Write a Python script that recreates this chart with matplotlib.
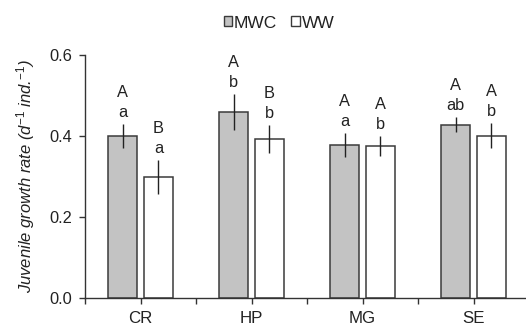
import matplotlib
matplotlib.use("Agg")
import matplotlib.pyplot as plt
from matplotlib.patches import Patch
import numpy as np

plt.rcParams['font.family'] = ['Liberation Sans', 'DejaVu Sans']
plt.rcParams['mathtext.fontset'] = 'custom'
plt.rcParams['mathtext.rm'] = 'Liberation Sans'
plt.rcParams['mathtext.it'] = 'Liberation Sans:italic'
plt.rcParams['mathtext.bf'] = 'Liberation Sans:bold'

# Sites and treatment means with standard errors
sites = ["CR", "HP", "MG", "SE"]
mwc_mean = [0.400, 0.459, 0.377, 0.428]
mwc_err = [0.029, 0.044, 0.029, 0.019]
ww_mean = [0.298, 0.392, 0.374, 0.400]
ww_err = [0.041, 0.034, 0.025, 0.031]

# Significance letters (uppercase: between treatments, lowercase: between sites)
mwc_upper = ["A", "A", "A", "A"]
mwc_lower = ["a", "b", "a", "ab"]
ww_upper = ["B", "B", "A", "A"]
ww_lower = ["a", "b", "b", "b"]

W, H = 526, 325
fig = plt.figure(figsize=(W / 100, H / 100), dpi=100)
ax = fig.add_axes([85 / W, (H - 297.5) / H, 444 / W, 242.5 / H])

x = np.arange(len(sites))
off = 0.162
bw = 0.265
edge = "#3a3a3a"
ax.bar(x - off, mwc_mean, bw, color="#c3c3c3", edgecolor=edge, linewidth=1.1, zorder=2)
ax.bar(x + off, ww_mean, bw, color="white", edgecolor=edge, linewidth=1.1, zorder=2)
ax.errorbar(x - off, mwc_mean, yerr=mwc_err, fmt="none", ecolor="#222222", elinewidth=1.0, capsize=0, zorder=3)
ax.errorbar(x + off, ww_mean, yerr=ww_err, fmt="none", ecolor="#222222", elinewidth=1.0, capsize=0, zorder=3)

fs = 11.8
tc = "#222222"
for xs, means, errs, up, lo in [(x - off, mwc_mean, mwc_err, mwc_upper, mwc_lower),
                                 (x + off, ww_mean, ww_err, ww_upper, ww_lower)]:
    for xi, m, e, u, l in zip(xs, means, errs, up, lo):
        ax.annotate(l, (xi, m + e), xytext=(0, 7), textcoords="offset pixels",
                    ha="center", va="baseline", fontsize=fs, color=tc)
        ax.annotate(u, (xi, m + e), xytext=(0, 27), textcoords="offset pixels",
                    ha="center", va="baseline", fontsize=fs, color=tc, annotation_clip=False)

ax.set_xlim(-0.5, 3.5)
ax.set_ylim(0, 0.6)
ax.set_yticks([0.0, 0.2, 0.4, 0.6])
ax.set_yticklabels(["0.0", "0.2", "0.4", "0.6"])
ax.set_xticks(x)
ax.set_xticklabels(sites, fontsize=12.2)
ax.set_xticks(np.arange(-0.5, 4.0, 1.0), minor=True)

for s in ["top", "right"]:
    ax.spines[s].set_visible(False)
for s in ["left", "bottom"]:
    ax.spines[s].set_color("#333333")
    ax.spines[s].set_linewidth(1.0)

ax.tick_params(axis="both", which="both", direction="out", length=4, width=1.0,
               color="#333333", labelcolor=tc)
ax.tick_params(axis="y", labelsize=fs, pad=5)
ax.tick_params(axis="x", which="major", pad=6)

ax.set_ylabel(r"Juvenile growth rate (d$^{\mathit{-1}}$ ind.$^{\mathit{-1}}$)", fontsize=12,
              style="italic", color=tc, labelpad=9)

handles = [Patch(facecolor="#c3c3c3", edgecolor=edge, linewidth=1.0, label="MWC"),
           Patch(facecolor="white", edgecolor=edge, linewidth=1.0, label="WW")]
fig.legend(handles=handles, loc="center", bbox_to_anchor=(279 / W, 1 - 23 / H), ncol=2,
           frameon=False, fontsize=12.5, handlelength=0.5, handleheight=0.5,
           handletextpad=0.1, columnspacing=0.8, labelcolor=tc)

fig.savefig("out.png", dpi=100)
